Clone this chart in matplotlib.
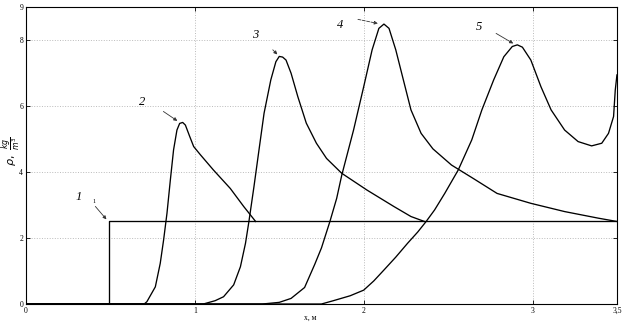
import matplotlib.pyplot as plt

# curve 1: step to the initial density
x1 = [0.0, 0.49, 0.49, 3.5]
y1 = [0.0, 0.0, 2.5, 2.5]

x2 = [0.0, 0.70, 0.716, 0.766, 0.795, 0.815, 0.835, 0.855, 0.874, 0.894,
      0.91, 0.928, 0.944, 0.97, 0.993, 1.033, 1.11, 1.21, 1.29, 1.36]
y2 = [0.0, 0.0, 0.07, 0.52, 1.23, 1.94, 2.75, 3.76, 4.67, 5.27,
      5.47, 5.5, 5.42, 5.07, 4.77, 4.52, 4.06, 3.5, 2.95, 2.5]

x3 = [0.0, 1.05, 1.12, 1.17, 1.23, 1.27, 1.30, 1.32, 1.35, 1.38, 1.41, 1.45,
      1.48, 1.50, 1.52, 1.54, 1.57, 1.61, 1.66, 1.72, 1.78, 1.87, 2.02, 2.18,
      2.28, 2.36]
y3 = [0.0, 0.0, 0.1, 0.22, 0.58, 1.13, 1.84, 2.49, 3.55, 4.67, 5.78, 6.79,
      7.34, 7.5, 7.48, 7.39, 6.99, 6.28, 5.48, 4.87, 4.41, 3.96, 3.45, 2.95,
      2.65, 2.5]

x4 = [0.0, 1.40, 1.50, 1.57, 1.65, 1.71, 1.75, 1.80, 1.84, 1.87, 1.94, 2.0,
      2.05, 2.09, 2.12, 2.15, 2.19, 2.23, 2.28, 2.34, 2.41, 2.52, 2.65, 2.79,
      2.99, 3.19, 3.39, 3.5]
y4 = [0.0, 0.0, 0.05, 0.17, 0.5, 1.2, 1.7, 2.5, 3.2, 3.9, 5.27, 6.58,
      7.7, 8.35, 8.48, 8.35, 7.7, 6.89, 5.88, 5.17, 4.7, 4.21, 3.8, 3.35,
      3.05, 2.8, 2.6, 2.5]

x5 = [0.0, 1.75, 1.82, 1.92, 2.0, 2.06, 2.12, 2.19, 2.26, 2.32, 2.37, 2.42,
      2.48, 2.56, 2.64, 2.70, 2.77, 2.83, 2.88, 2.91, 2.94, 2.99, 3.05, 3.11,
      3.19, 3.27, 3.35, 3.41, 3.45, 3.48, 3.49, 3.5]
y5 = [0.0, 0.0, 0.1, 0.25, 0.42, 0.7, 1.03, 1.42, 1.84, 2.18, 2.5, 2.85,
      3.35, 4.06, 4.97, 5.88, 6.79, 7.49, 7.8, 7.85, 7.78, 7.39, 6.58, 5.88,
      5.27, 4.92, 4.79, 4.87, 5.17, 5.68, 6.48, 6.94]

x_ticks = [0, 1, 2, 3, 3.5]
x_tick_labels = ["0", "1", "2", "3", "3,5"]
y_ticks = [0, 2, 4, 6, 8, 9]
y_tick_labels = ["0", "2", "4", "6", "8", "9"]

# (label, label position, arrow tail, arrow head)
curve_labels = [
    ("1", (0.31, 3.24), (0.40, 3.02), (0.487, 2.5)),
    ("2", (0.69, 6.12), (0.80, 5.88), (0.91, 5.5)),
    ("3", (1.36, 8.15), (1.45, 7.76), (1.50, 7.5)),
    ("4", (1.86, 8.45), (1.95, 8.64), (2.10, 8.48)),
    ("5", (2.68, 8.39), (2.77, 8.24), (2.90, 7.85)),
]

plt.rcParams["font.family"] = ["Liberation Serif", "DejaVu Serif"]

fig = plt.figure(figsize=(6.28, 3.24), dpi=100)
ax = fig.add_axes([0.0414, 0.0617, 0.941, 0.917])

for x, y in [(x1, y1), (x2, y2), (x3, y3), (x4, y4), (x5, y5)]:
    ax.plot(x, y, color="black", linewidth=0.95)

for label, text_pos, tail, head in curve_labels:
    ax.text(text_pos[0], text_pos[1], label, fontsize=9, style="italic",
            ha="center", va="center")
    ax.annotate("", xy=head, xytext=tail,
                arrowprops=dict(arrowstyle="-|>", color="#333333", lw=0.6,
                                mutation_scale=5,
                                linestyle="--" if label == "4" else "-"))
ax.text(0.40, 3.12, "1", fontsize=4.5, ha="center", va="center")

ax.set_xlim(0, 3.5)
ax.set_ylim(0, 9)
ax.set_xticks(x_ticks)
ax.set_xticklabels(x_tick_labels)
ax.set_yticks(y_ticks)
ax.set_yticklabels(y_tick_labels)
ax.tick_params(direction="in", length=3, width=0.6, labelsize=5.5, pad=2,
               top=True, right=True)

for v in [1, 2, 3]:
    ax.axvline(v, color="#bbbbbb", linestyle=":", linewidth=0.7, zorder=0)
for v in [2, 4, 6, 8]:
    ax.axhline(v, color="#bbbbbb", linestyle=":", linewidth=0.7, zorder=0)

for spine in ax.spines.values():
    spine.set_linewidth(0.8)

fig.text(310 / 628, 6 / 324, "x, м", fontsize=5.5, ha="center", va="center")
fig.text(12 / 628, 0.535, r"$\rho,\ \frac{kg}{m^3}$", fontsize=8,
         rotation=90, ha="center", va="center")

plt.savefig("out.png", dpi=100)
plt.close()
